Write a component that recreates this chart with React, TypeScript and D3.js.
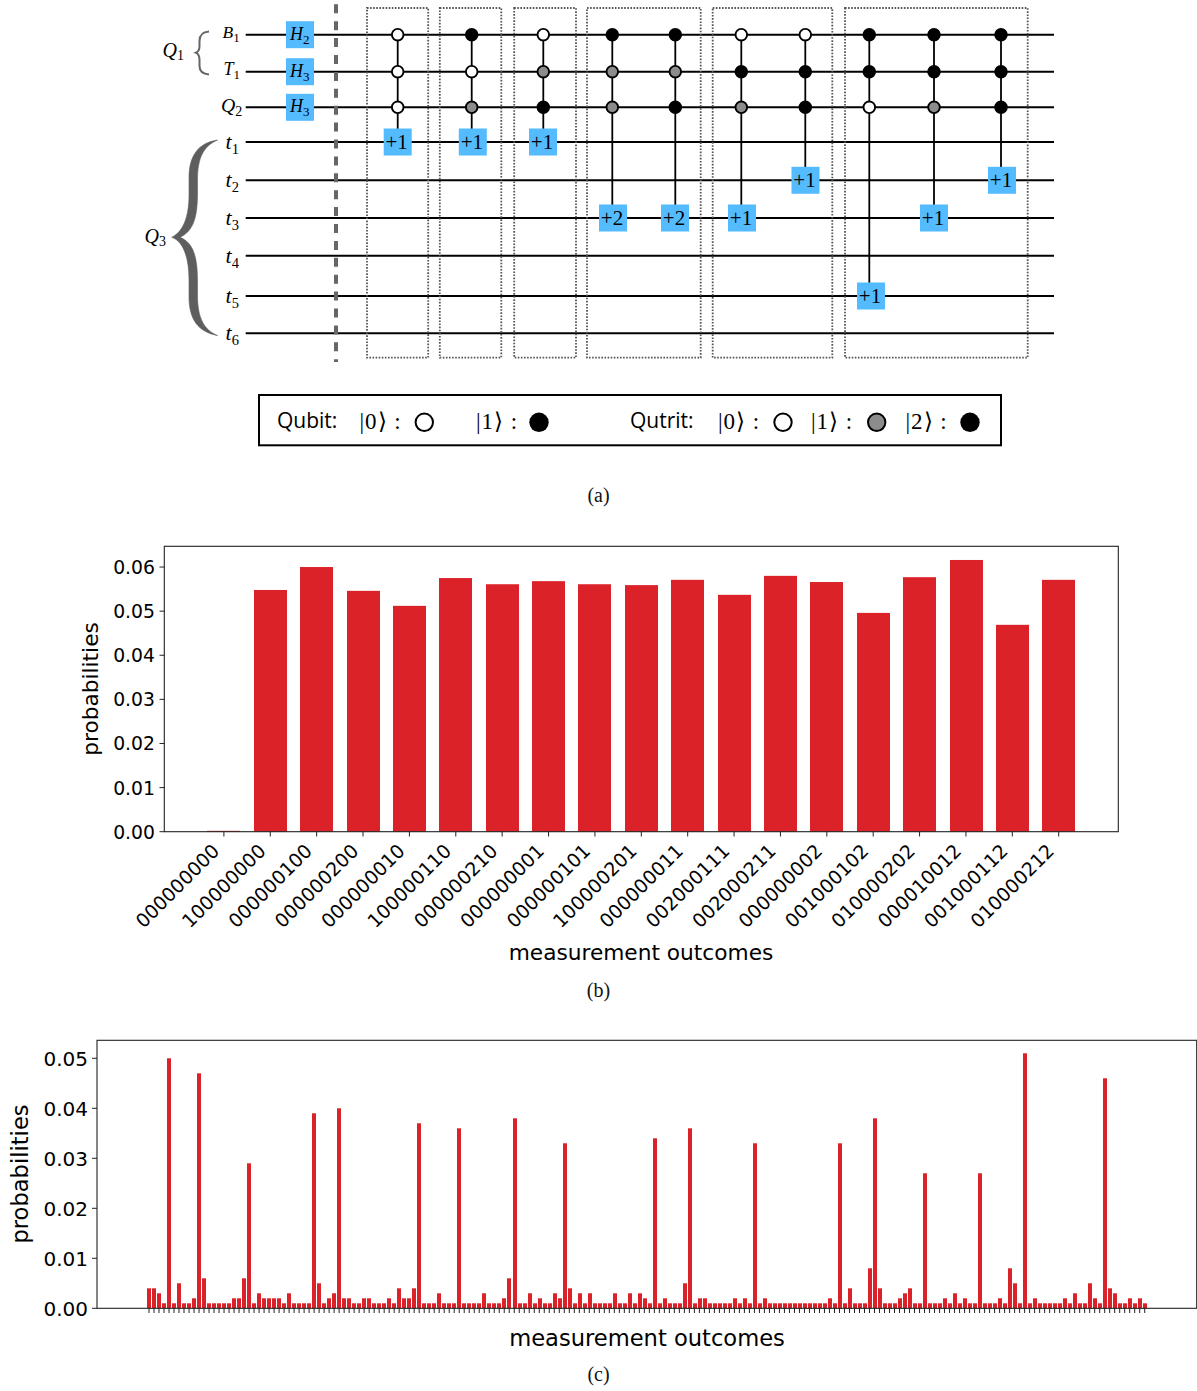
import React from "react";
import * as d3 from "d3";

// ---------- data ----------
const wireNames = ["B1", "T1", "Q2", "t1", "t2", "t3", "t4", "t5", "t6"];
const hGateWires = ["B1", "T1", "Q2"];
const hGateDims = ["2", "3", "3"];
const controlWires = ["B1", "T1", "Q2"];
// o: |0>, g: qutrit |1>, k: filled
const controlStates = ["ooo", "kog", "ogk", "kgg", "kgk", "okg", "okk", "kko", "kkg", "kkk"];
const targetWires = ["t1", "t1", "t1", "t3", "t3", "t3", "t2", "t5", "t3", "t2"];
const targetLabels = ["+1", "+1", "+1", "+2", "+2", "+1", "+1", "+1", "+1", "+1"];

const outcomesB = [
  "000000000", "100000000", "000000100", "000000200", "000000010", "100000110", "000000210",
  "000000001", "000000101", "100000201", "000000011", "002000111", "002000211", "000000002",
  "001000102", "010000202", "000010012", "001000112", "010000212",
];
const probabilitiesB = [
  0.0002, 0.0548, 0.06, 0.0546, 0.0512, 0.0575, 0.0561, 0.0568, 0.0561, 0.0559, 0.0571, 0.0537,
  0.058, 0.0566, 0.0496, 0.0577, 0.0616, 0.0469, 0.0571,
];
const ticksB = [0, 0.01, 0.02, 0.03, 0.04, 0.05, 0.06];

const perMilleC = [
  4, 4, 3, 1, 50, 1, 5, 1, 1, 2,
  47, 6, 1, 1, 1, 1, 1, 2, 2, 6,
  29, 1, 3, 2, 2, 2, 2, 1, 3, 1,
  1, 1, 1, 39, 5, 1, 2, 3, 40, 2,
  2, 1, 1, 2, 2, 1, 1, 1, 2, 1,
  4, 2, 2, 4, 37, 1, 1, 1, 3, 1,
  1, 1, 36, 1, 1, 1, 1, 3, 1, 1,
  1, 2, 6, 38, 1, 1, 3, 1, 2, 1,
  1, 3, 2, 33, 4, 1, 3, 1, 3, 1,
  1, 1, 1, 3, 1, 1, 3, 1, 3, 2,
  1, 34, 1, 2, 1, 1, 1, 5, 36, 1,
  2, 2, 1, 1, 1, 1, 1, 2, 1, 2,
  1, 33, 1, 2, 1, 1, 1, 1, 1, 1,
  1, 1, 1, 1, 1, 1, 2, 1, 33, 1,
  4, 1, 1, 1, 8, 38, 4, 1, 1, 1,
  2, 3, 4, 1, 1, 27, 1, 1, 1, 2,
  1, 3, 1, 2, 1, 1, 27, 1, 1, 1,
  2, 1, 8, 5, 1, 51, 1, 2, 1, 1,
  1, 1, 1, 2, 1, 3, 1, 1, 5, 2,
  1, 46, 4, 3, 1, 1, 2, 1, 2, 1,
];
const ticksC = [0, 0.01, 0.02, 0.03, 0.04, 0.05];

// ---------- layout ----------
const SERIF = "'Liberation Serif', serif";
const SANS = "'DejaVu Sans', sans-serif";
const RED = "#db2228";
const wireY = d3.scaleOrdinal<string, number>()
  .domain(wireNames)
  .range([34.7, 71.7, 107.3, 142, 180.3, 218, 255.7, 296, 333.3]);
const columnX = [397.7, 471.7, 543.3, 612.3, 675.3, 741.3, 805.3, 869.3, 934, 1001];
const targetX = [397.7, 472.8, 543, 613, 675, 742, 805.5, 871, 934, 1002];
const groupBoxes = [
  [367, 428.2], [439.8, 501.3], [514.2, 576], [587, 700.7], [712.7, 832.3], [845, 1027.7],
];
const stateFill: Record<string, string> = { o: "#ffffff", g: "#8c8c8c", k: "#000000" };

const xB = d3.scaleLinear().domain([-1.285, 19.285]).range([164.3, 1118.3]);
const yB = d3.scaleLinear().domain([0, 0.0647]).range([831.7, 546.3]);
const xC = d3.scaleLinear().domain([-10.39, 209.39]).range([97, 1196.7]);
const yC = d3.scaleLinear().domain([0, 0.0536]).range([1308.3, 1040.3]);
const fmt = d3.format(".2f");

function Label({ x, y, base, sub, size, subSize, drop }: any) {
  return (
    <text x={x} y={y} fontFamily={SERIF} fontSize={size} fontStyle="italic" fill="#000">
      {base}
      <tspan fontStyle="normal" fontSize={subSize} dy={drop}>{sub}</tspan>
    </text>
  );
}

function Circuit() {
  return (
    <g>
      {/* wires */}
      {wireNames.map((w) => (
        <line key={w} x1={245.7} x2={1054} y1={wireY(w)} y2={wireY(w)} stroke="#000" strokeWidth={1.9} />
      ))}
      {/* labels */}
      <Label x={222.5} y={38} base="B" sub="1" size={17.5} subSize={13} drop={3.5} />
      <Label x={223.5} y={75} base="T" sub="1" size={18} subSize={13} drop={3.5} />
      <Label x={221} y={112} base="Q" sub="2" size={19.8} subSize={14} drop={3.5} />
      {["t1", "t2", "t3", "t4", "t5", "t6"].map((w, i) => (
        <Label key={w} x={225.5} y={wireY(w) + 7} base="t" sub={String(i + 1)} size={22} subSize={14.5} drop={5} />
      ))}
      <Label x={162.5} y={57} base="Q" sub="1" size={20} subSize={14} drop={2.5} />
      <Label x={144.5} y={243} base="Q" sub="3" size={20} subSize={14} drop={2.5} />
      {/* braces */}
      <path
        d="M209,31.5 C202,32 199.5,35 199.5,41 L199.5,46 C199.5,50 198,52 196,52.7 C198,53.5 199.5,56 199.5,60 L199.5,66 C199.5,71 202,74 209,74.5"
        fill="none" stroke="#666" strokeWidth={2}
      />
      <path
        d="M217.5,140 C198,143 189,156 189,178 L189,195 C189,217 183,232 171.7,237.3 C183,241 189,257 189,280 L189,297 C189,319 198,332 217.5,335.5 C204,330 197.5,318 197.5,295 L197.5,282 C197.5,258 194,243 180,237.3 C194,231 197.5,216 197.5,193 L197.5,180 C197.5,157 204,146 217.5,140 Z"
        fill="#5e5e5e" stroke="#5e5e5e" strokeWidth={0.6}
      />
      {/* H gates */}
      {hGateWires.map((w, i) => (
        <g key={w}>
          <rect x={286} y={wireY(w) - 13.5} width={28} height={27} fill="#55bbff" />
          <text x={290} y={wireY(w) + 5} fontFamily={SERIF} fontSize={18} fontStyle="italic" fill="#000">
            H<tspan fontStyle="normal" fontSize={13} dy={4}>{hGateDims[i]}</tspan>
          </text>
        </g>
      ))}
      {/* barrier */}
      <line x1={336} x2={336} y1={4.3} y2={362} stroke="#666" strokeWidth={4} strokeDasharray="9 7.9" />
      {/* gate groups */}
      {groupBoxes.map(([a, b]) => (
        <rect key={a} x={a} y={8} width={b - a} height={349.7} fill="none" stroke="#555" strokeWidth={1.8} strokeDasharray="1.6 1.5" />
      ))}
      {/* gates */}
      {controlStates.map((state, c) => (
        <g key={c}>
          <line x1={columnX[c]} x2={columnX[c]} y1={wireY("B1")} y2={wireY(targetWires[c])} stroke="#000" strokeWidth={1.8} />
          {controlWires.map((w, i) => (
            <circle key={w} cx={columnX[c]} cy={wireY(w)} r={5.8} fill={stateFill[state[i]]} stroke="#000" strokeWidth={1.9} />
          ))}
          <rect x={targetX[c] - 14} y={wireY(targetWires[c]) - 13.5} width={28} height={27} fill="#55bbff" />
          <text x={targetX[c] - 1} y={wireY(targetWires[c]) + 6.5} textAnchor="middle" fontFamily={SERIF} fontSize={21} fill="#000">
            {targetLabels[c]}
          </text>
        </g>
      ))}
    </g>
  );
}

function Legend() {
  const ket = (x: number, t: string) => (
    <text x={x} y={428.5} fontFamily={SERIF} fontSize={23} letterSpacing={1} fill="#000" xmlSpace="preserve">{t}</text>
  );
  const sans = (x: number, t: string) => (
    <text x={x} y={428} fontFamily="'Open Sans', sans-serif" fontSize={21} fill="#000">{t}</text>
  );
  return (
    <g>
      <rect x={259} y={395} width={742} height={50.3} fill="#fff" stroke="#000" strokeWidth={2} />
      {sans(277, "Qubit:")}
      {ket(359.5, "|0⟩ :")}
      <circle cx={424.3} cy={422.3} r={8.7} fill="#fff" stroke="#000" strokeWidth={2} />
      {ket(476, "|1⟩ :")}
      <circle cx={539} cy={422.3} r={9.7} fill="#000" />
      {sans(630, "Qutrit:")}
      {ket(718, "|0⟩ :")}
      <circle cx={783} cy={422.3} r={8.7} fill="#fff" stroke="#000" strokeWidth={2} />
      {ket(811, "|1⟩ :")}
      <circle cx={876.7} cy={422.3} r={8.7} fill="#8c8c8c" stroke="#000" strokeWidth={2} />
      {ket(905.5, "|2⟩ :")}
      <circle cx={970} cy={422.3} r={9.7} fill="#000" />
    </g>
  );
}

function BarsB() {
  const w = xB(0.7) - xB(0);
  return (
    <g>
      {probabilitiesB.map((p, i) => (
        <rect key={i} x={Math.round(xB(i) - w / 2 - 0.2)} y={yB(p)} width={Math.round(w + 0.5)} height={yB(0) - yB(p)} fill={RED} />
      ))}
      <rect x={164.3} y={546.3} width={954} height={285.4} fill="none" stroke="#222" strokeWidth={1.1} />
      {ticksB.map((t) => (
        <g key={t}>
          <line x1={159.5} x2={164.3} y1={yB(t)} y2={yB(t)} stroke="#222" strokeWidth={1} />
          <text x={155} y={yB(t)} dy="0.37em" textAnchor="end" fontFamily={SANS} fontSize={18.8} fill="#000">{fmt(t)}</text>
        </g>
      ))}
      {outcomesB.map((o, i) => (
        <g key={i}>
          <line x1={xB(i)} x2={xB(i)} y1={831.7} y2={836.5} stroke="#222" strokeWidth={1} />
          <text transform={`translate(${xB(i) - 13},${842.5}) rotate(-45)`} dy="0.72em" textAnchor="end" fontFamily={SANS} fontSize={19} fill="#000">{o}</text>
        </g>
      ))}
      <text x={641} y={960} textAnchor="middle" fontFamily={SANS} fontSize={21.7} fill="#000">measurement outcomes</text>
      <text transform="translate(98,689) rotate(-90)" textAnchor="middle" fontFamily={SANS} fontSize={21.7} fill="#000">probabilities</text>
    </g>
  );
}

function BarsC() {
  const w = xC(0.8) - xC(0);
  return (
    <g>
      {perMilleC.map((p, i) => (
        <rect key={i} x={Math.round(xC(i) - w / 2 + 0.25)} y={yC(p / 1000)} width={4} height={yC(0) - yC(p / 1000)} fill={RED} />
      ))}
      {perMilleC.map((_, i) => (
        <line key={i} x1={xC(i)} x2={xC(i)} y1={1308.3} y2={1313} stroke="#222" strokeWidth={1} />
      ))}
      <rect x={97} y={1040.3} width={1099.7} height={268} fill="none" stroke="#222" strokeWidth={1.1} />
      {ticksC.map((t) => (
        <g key={t}>
          <line x1={92} x2={97} y1={yC(t)} y2={yC(t)} stroke="#222" strokeWidth={1} />
          <text x={88} y={yC(t)} dy="0.37em" textAnchor="end" fontFamily={SANS} fontSize={20} fill="#000">{fmt(t)}</text>
        </g>
      ))}
      <text x={647} y={1346} textAnchor="middle" fontFamily={SANS} fontSize={22.6} fill="#000">measurement outcomes</text>
      <text transform="translate(27.5,1174) rotate(-90)" textAnchor="middle" fontFamily={SANS} fontSize={22.6} fill="#000">probabilities</text>
    </g>
  );
}

export default function App() {
  const caption = (t: string, y: number) => (
    <text x={598.5} y={y} textAnchor="middle" fontFamily={SERIF} fontSize={20} fill="#111">{t}</text>
  );
  return (
    <svg width={1197} height={1391} viewBox="0 0 1197 1391" style={{ position: "absolute", left: 0, top: 0, display: "block", background: "#fff" }}>
      <Circuit />
      <Legend />
      {caption("(a)", 502)}
      <BarsB />
      {caption("(b)", 997)}
      <BarsC />
      {caption("(c)", 1381)}
    </svg>
  );
}
